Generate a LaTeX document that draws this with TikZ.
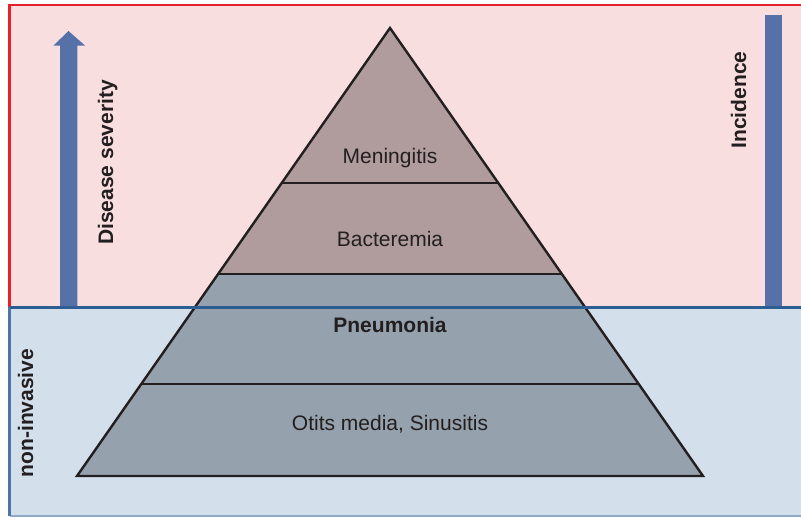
\documentclass[tikz,border=0pt]{standalone}
\usepackage{fontspec}
\setmainfont{Liberation Sans}
\definecolor{pinkbg}{HTML}{F9DEDF}
\definecolor{bluebg}{HTML}{D3DFEA}
\definecolor{redline}{HTML}{E62129}
\definecolor{blueline}{HTML}{2D5E93}
\definecolor{lowline}{HTML}{8FA9C9}
\definecolor{arrowc}{HTML}{5670A8}
\definecolor{mauve}{HTML}{B09C9D}
\definecolor{slate}{HTML}{95A1AC}
\definecolor{textc}{HTML}{231F20}
\tikzset{
  lbl/.style={font=\fontsize{21}{25}\selectfont, text=textc, inner sep=0pt, anchor=base},
  boldlbl/.style={lbl, font=\fontsize{21}{25}\selectfont\bfseries},
  tier/.style={draw=textc, line width=2.4pt},
}
\begin{document}
\begin{tikzpicture}[x=1pt,y=-1pt]
\useasboundingbox (0,0) rectangle (801,517);
% backgrounds
\fill[pinkbg] (9.5,5) rectangle (810,307);
\fill[bluebg] (9.5,307) rectangle (810,516);
% pyramid
\fill[slate] (390,28) -- (703,476) -- (77,476) -- cycle;
\fill[mauve] (390,28) -- (561.9,274) -- (218.1,274) -- cycle;
\draw[tier] (281.7,183) -- (498.3,183);
\draw[tier] (218.1,274) -- (561.9,274);
\draw[tier] (141.3,384) -- (638.7,384);
\draw[tier, line join=miter] (390,28) -- (703,476) -- (77,476) -- cycle;
% borders
\draw[redline, line width=2.2pt] (9.5,307) -- (9.5,5) -- (810,5);
\draw[lowline, line width=1.5pt] (9.5,516) -- (810,516);
\draw[blueline!85, line width=2.2pt] (9.5,307) -- (9.5,516);
\draw[blueline, line width=3pt] (9.5,307) -- (810,307);
% severity arrow
\fill[arrowc] (60,306) -- (60,45.5) -- (53.5,45.5) -- (68.5,31) -- (85,45.5) -- (77.3,45.5) -- (77.3,306) -- cycle;
% incidence bar
\fill[arrowc] (764.5,15) rectangle (782,306);
% labels
\node[boldlbl, rotate=90] (sev) at (113,162.5) {Disease severity};
\node[boldlbl, rotate=90] (inc) at (746,100) {Incidence};
\node[boldlbl, rotate=90] (noninv) at (33,413) {non-invasive};
\node[lbl] (men) at (390,163) {Meningitis};
\node[lbl] (bac) at (390,246) {Bacteremia};
\node[boldlbl] (pne) at (390,332) {Pneumonia};
\node[lbl] (oti) at (390,430) {Otits media, Sinusitis};
\end{tikzpicture}
\end{document}
